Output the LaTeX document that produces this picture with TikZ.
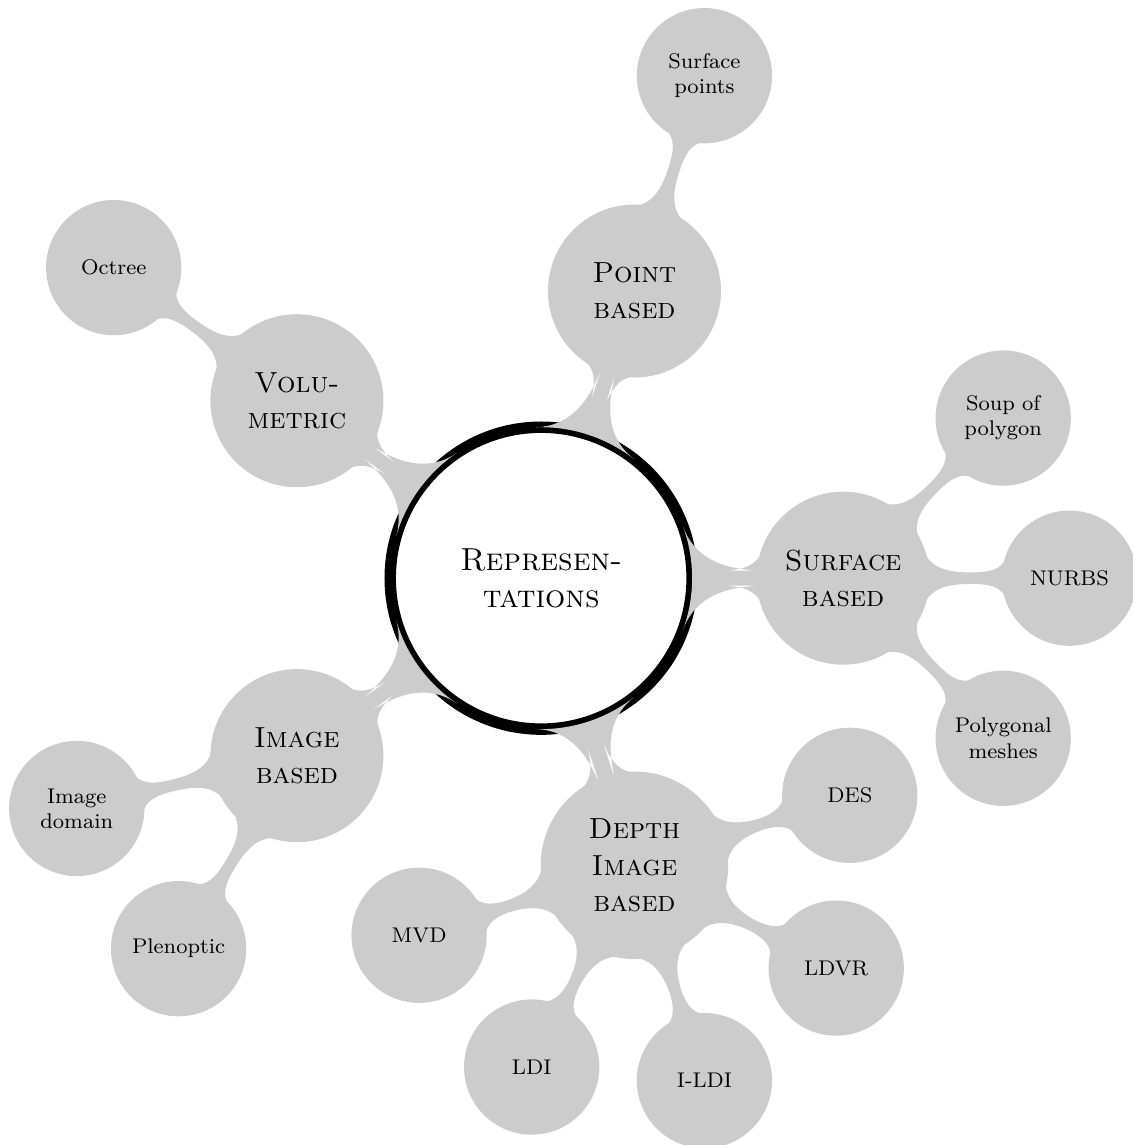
\documentclass[tikz,border=0pt]{standalone}
\usepackage{tikz}
\usetikzlibrary{mindmap, trees}
\definecolor{conceptgray}{RGB}{204,204,204}

\begin{document}
\begin{tikzpicture}[mindmap,
  every node/.style={concept, execute at begin node=\hskip0pt},
  root concept/.append style={concept color=black, fill=white, line width=1ex, text=black, font=\large\scshape},
  level 1 concept/.append style={font=\fontsize{10.95}{13.6}\selectfont\scshape},
  concept color=conceptgray, text=black,
  grow cyclic,
  level 1/.append style={level distance=4cm, sibling angle=72},
  level 2/.append style={level distance=3cm, sibling angle=45}]
  \useasboundingbox (-7.17,-7.51) rectangle (7.83,7.66);
  \node[root concept] (repr) {Represen-\\tations}
    [clockwise from=72]
    child { node (point) {Point\\based}
      [clockwise from=72]
      child { node (surfpts) {Surface\\points} } }
    child { node (surface) {Surface\\based}
      [clockwise from=45]
      child { node (soup) {Soup of\\polygon} }
      child { node (nurbs) {NURBS} }
      child { node (meshes) {Polygonal\\meshes} } }
    child { node (depth) {Depth\\Image\\based}
      [clockwise from=18]
      child { node (des) {DES} }
      child { node (ldvr) {LDVR} }
      child { node (ildi) {I-LDI} }
      child { node (ldi) {LDI} }
      child { node (mvd) {MVD} } }
    child { node (image) {Image\\based}
      [counterclockwise from=-166.5]
      child { node (imgdom) {Image\\domain} }
      child { node (pleno) {Plenoptic} } }
    child { node (volume) {Volu-\\metric}
      [clockwise from=144]
      child { node (octree) {Octree} } };
\end{tikzpicture}
\end{document}
